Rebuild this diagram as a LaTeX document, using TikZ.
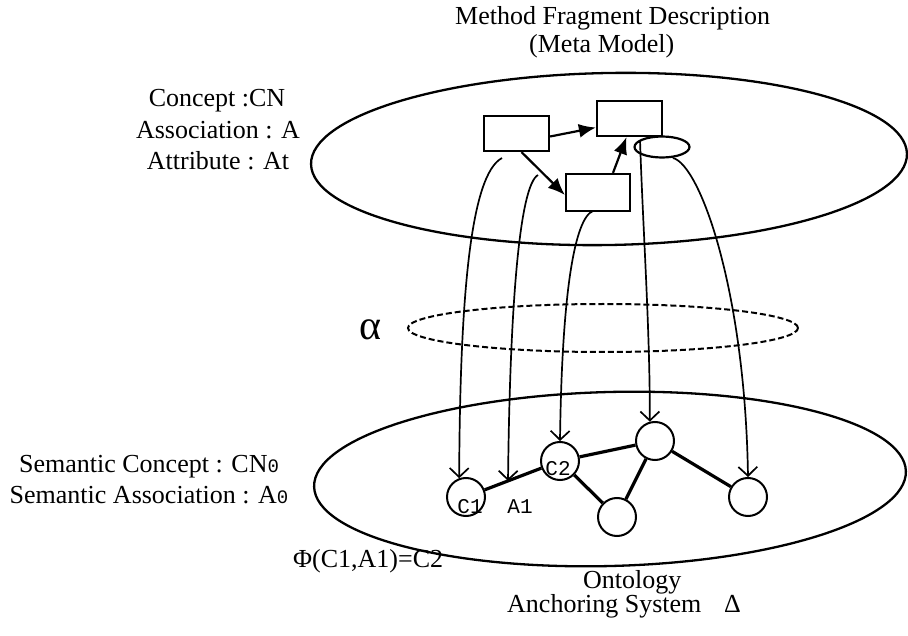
\documentclass[tikz,border=0pt]{standalone}
\usepackage{fontspec}
\setmainfont{Liberation Serif}
\setmonofont{Liberation Mono}
\usetikzlibrary{arrows.meta,calc,shapes.geometric}
\newcommand{\zerofont}{\fontsize{19}{19}\selectfont\ttfamily}
\begin{document}
\begin{tikzpicture}[x=1pt,y=-1pt,
  txt/.style={inner sep=0pt,font=\fontsize{26}{30}\selectfont},
  lbl/.style={inner sep=0pt,font=\fontsize{21}{21}\selectfont\ttfamily},
  box/.style={draw,line width=2.2pt,minimum width=65pt,minimum height=35pt,inner sep=0pt},
  gnode/.style={draw,circle,line width=2pt,minimum size=38pt,inner sep=0pt},
  topar/.style={-{Latex[length=17pt,width=14pt]},line width=2.2pt},
  downar/.style={-{Straight Barb[length=9pt,width=19pt]},line width=1.7pt},
  gedge/.style={line width=3.2pt},
  shell/.style={line width=2.3pt}]
\useasboundingbox (0,0) rectangle (908,636);

% layers
\draw[shell,rotate around={1:(609,159)}] (609,159) ellipse [x radius=298pt,y radius=86pt];
\draw[shell,rotate around={1.5:(610,479)}] (610,479) ellipse [x radius=296pt,y radius=87pt];
\draw[line width=2pt,dash pattern=on 6pt off 3pt] (603,328) ellipse [x radius=195pt,y radius=24pt];

% texts
\node[txt,anchor=base west] (t1) at (455,25) {Method Fragment Description};
\node[txt,anchor=base west] (t2) at (529,53) {(Meta Model)};
\node[txt,anchor=base] (cn) at (217,107) {Concept :CN};
\node[txt,anchor=base] (as) at (218,139) {Association : A};
\node[txt,anchor=base] (at) at (218,170) {Attribute : At};
\node[txt,anchor=base] (sc) at (149,472) {Semantic Concept : CN{\zerofont 0}};
\node[txt,anchor=base] (sa) at (149,503) {Semantic Association : A{\zerofont 0}};
\node[txt,anchor=base west] (phi) at (293,567) {Φ(C1,A1)=C2};
\node[txt,anchor=base west] (onto) at (583,588) {Ontology};
\node[txt,anchor=base west] (anch) at (507,612) {Anchoring System};
\node[txt,anchor=base west] (delta) at (724,612) {Δ};
\node[inner sep=0pt,font=\fontsize{42}{42}\selectfont] (alpha) at (370,330) {α};

% meta model elements
\node[box] (r1) at (516.5,133.5) {};
\node[box] (r2) at (629.5,118.5) {};
\node[box,minimum width=64pt,minimum height=37pt] (r3) at (598,192.5) {};
\node[draw,ellipse,line width=2.2pt,minimum width=55pt,minimum height=21pt,inner sep=0pt] (e1) at (662,147) {};

\draw[topar] ([yshift=-3pt]r1.east) -- ([yshift=-9pt]r2.west);
\draw[topar] ([xshift=5pt]r1.south) -- ([yshift=-2.5pt]r3.west);
\draw[topar] ([xshift=15pt]r3.north) -- ([xshift=-3pt]r2.south);

% ontology graph
\node[gnode] (c1) at (466,497) {};
\node[gnode] (c2) at (560,461) {};
\node[gnode] (n3) at (655,441) {};
\node[gnode] (n4) at (617,517) {};
\node[gnode] (n5) at (748,497) {};
\draw[gedge] (c1) -- (c2);
\draw[gedge] (c2) -- (n3);
\draw[gedge] (c2) -- (n4);
\draw[gedge] (n3) -- (n4);
\draw[gedge] (n3) -- (n5);
\node[lbl,anchor=base] (lc1) at (470,513) {C1};
\node[lbl,anchor=base] (la1) at (520,513) {A1};
\node[lbl,anchor=base] (lc2) at (558,475) {C2};

% anchoring curves
\coordinate (s1) at (502,158);
\coordinate (s2) at (538,175);
\coordinate (s3) at (593,211);
\coordinate (s4) at (640,140);
\coordinate (s5) at (673,158);
\coordinate (a1p) at ($(c1)!0.447!(c2)$);
\draw[downar] (s1) .. controls (470,175) and (460,300) .. (c1.110);
\draw[downar] (s2) .. controls (520,185) and (510,300) .. (a1p);
\draw[downar] (s3) .. controls (575,218) and (562,290) .. (c2.north);
\draw[downar] (s4) .. controls (643,230) and (650,330) .. (n3.105);
\draw[downar] (s5) .. controls (700,165) and (745,290) .. (n5.north);
\end{tikzpicture}
\end{document}
